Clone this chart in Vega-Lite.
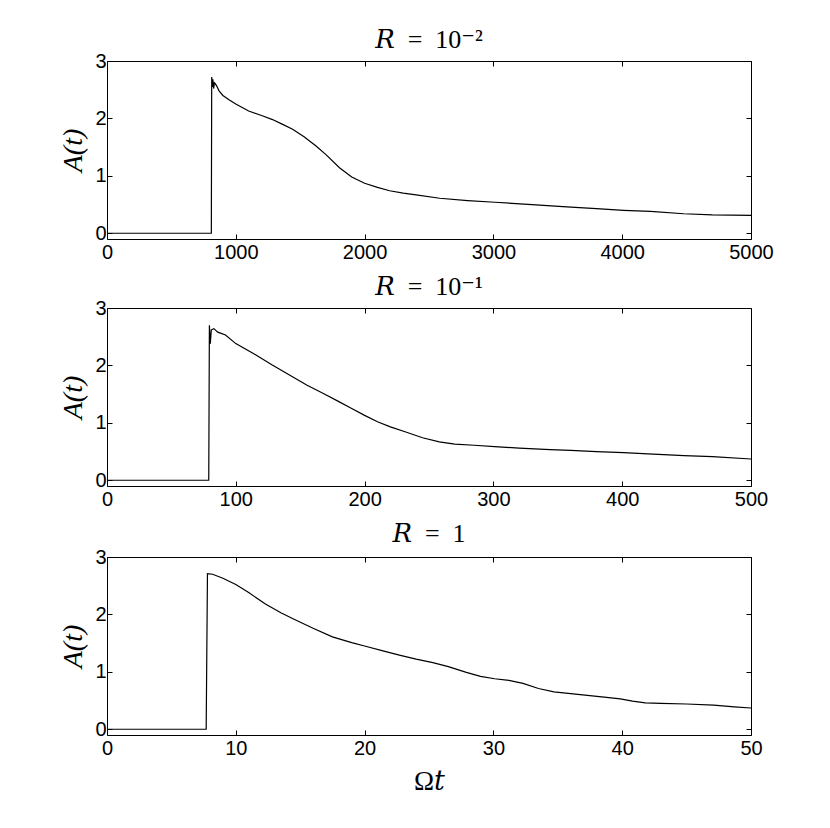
{
  "$schema": "https://vega.github.io/schema/vega-lite/v6.json",
  "padding": {"left": 59, "top": 26, "right": 5, "bottom": 5},
  "autosize": {"type": "pad"},
  "spacing": 10,
  "datasets": {
    "p1": [
      {"t": 0, "A": 0}, {"t": 810, "A": 0}, {"t": 813, "A": 2.72}, {"t": 818, "A": 2.55}, {"t": 822, "A": 2.68}, {"t": 828, "A": 2.52}, {"t": 834, "A": 2.62}, {"t": 842, "A": 2.6}, {"t": 855, "A": 2.55}, {"t": 870, "A": 2.48}, {"t": 900, "A": 2.4}, {"t": 950, "A": 2.32}, {"t": 1000, "A": 2.25}, {"t": 1100, "A": 2.13}, {"t": 1200, "A": 2.05}, {"t": 1285, "A": 1.98}, {"t": 1360, "A": 1.9}, {"t": 1441, "A": 1.81}, {"t": 1530, "A": 1.68}, {"t": 1623, "A": 1.52}, {"t": 1700, "A": 1.37}, {"t": 1805, "A": 1.14}, {"t": 1900, "A": 0.98}, {"t": 2000, "A": 0.87}, {"t": 2100, "A": 0.8}, {"t": 2194, "A": 0.74}, {"t": 2300, "A": 0.7}, {"t": 2400, "A": 0.67}, {"t": 2583, "A": 0.61}, {"t": 2800, "A": 0.57}, {"t": 3012, "A": 0.54}, {"t": 3300, "A": 0.5}, {"t": 3570, "A": 0.46}, {"t": 3800, "A": 0.43}, {"t": 4011, "A": 0.4}, {"t": 4219, "A": 0.38}, {"t": 4478, "A": 0.34}, {"t": 4700, "A": 0.32}, {"t": 5000, "A": 0.31}
    ],
    "p2": [
      {"t": 0, "A": 0}, {"t": 79, "A": 0}, {"t": 79.5, "A": 2.7}, {"t": 80.2, "A": 2.38}, {"t": 81, "A": 2.62}, {"t": 83, "A": 2.64}, {"t": 86, "A": 2.58}, {"t": 92, "A": 2.53}, {"t": 100, "A": 2.38}, {"t": 115, "A": 2.19}, {"t": 128, "A": 2.01}, {"t": 142, "A": 1.83}, {"t": 155, "A": 1.66}, {"t": 168, "A": 1.51}, {"t": 180, "A": 1.37}, {"t": 190, "A": 1.25}, {"t": 200, "A": 1.13}, {"t": 210, "A": 1.02}, {"t": 220, "A": 0.93}, {"t": 232, "A": 0.84}, {"t": 245, "A": 0.74}, {"t": 258, "A": 0.67}, {"t": 270, "A": 0.63}, {"t": 285, "A": 0.61}, {"t": 301, "A": 0.585}, {"t": 320, "A": 0.56}, {"t": 344, "A": 0.535}, {"t": 360, "A": 0.52}, {"t": 380, "A": 0.5}, {"t": 401, "A": 0.48}, {"t": 420, "A": 0.46}, {"t": 448, "A": 0.43}, {"t": 470, "A": 0.41}, {"t": 500, "A": 0.37}
    ],
    "p3": [
      {"t": 0, "A": 0}, {"t": 7.7, "A": 0}, {"t": 7.8, "A": 2.71}, {"t": 8.2, "A": 2.7}, {"t": 9, "A": 2.63}, {"t": 10, "A": 2.52}, {"t": 11, "A": 2.38}, {"t": 12.3, "A": 2.18}, {"t": 13.5, "A": 2.03}, {"t": 14.4, "A": 1.93}, {"t": 16, "A": 1.76}, {"t": 17.5, "A": 1.61}, {"t": 19, "A": 1.51}, {"t": 20, "A": 1.45}, {"t": 21.5, "A": 1.36}, {"t": 22.7, "A": 1.29}, {"t": 24, "A": 1.22}, {"t": 25.3, "A": 1.16}, {"t": 26.5, "A": 1.09}, {"t": 27.9, "A": 0.99}, {"t": 29, "A": 0.92}, {"t": 30.1, "A": 0.88}, {"t": 31.2, "A": 0.85}, {"t": 32.3, "A": 0.8}, {"t": 33.5, "A": 0.71}, {"t": 34.7, "A": 0.65}, {"t": 36, "A": 0.62}, {"t": 37.3, "A": 0.59}, {"t": 38.6, "A": 0.56}, {"t": 39.85, "A": 0.53}, {"t": 40.8, "A": 0.49}, {"t": 41.8, "A": 0.46}, {"t": 43, "A": 0.45}, {"t": 45, "A": 0.44}, {"t": 47.1, "A": 0.42}, {"t": 48.7, "A": 0.39}, {"t": 50, "A": 0.37}
    ]
  },
  "vconcat": [
    {
      "width": 644, "height": 178,
      "title": {"text": "𝑅\u2002=\u200210⁻²"},
      "data": {"name": "p1"},
      "layer": [
        {"mark": {"type": "line", "color": "black", "strokeWidth": 1.2},
         "encoding": {
           "x": {"field": "t", "type": "quantitative", "scale": {"domain": [0, 5000], "nice": false}, "axis": {"values": [0, 1000, 2000, 3000, 4000, 5000], "format": "d", "title": null}},
           "y": {"field": "A", "type": "quantitative", "scale": {"domain": [-0.1, 3], "nice": false, "zero": false}, "axis": {"values": [0, 1, 2, 3], "format": "d", "title": "A(t)"}}}},
        {"mark": {"type": "line", "strokeOpacity": 0},
         "encoding": {
           "x": {"field": "t", "type": "quantitative", "axis": {"orient": "top", "labels": false, "title": null, "values": [0, 1000, 2000, 3000, 4000, 5000]}},
           "y": {"field": "A", "type": "quantitative", "axis": {"orient": "right", "labels": false, "title": null, "values": [0, 1, 2, 3]}}}}
      ],
      "resolve": {"axis": {"x": "independent", "y": "independent"}}
    },
    {
      "width": 644, "height": 178,
      "title": {"text": "𝑅\u2002=\u200210⁻¹"},
      "data": {"name": "p2"},
      "layer": [
        {"mark": {"type": "line", "color": "black", "strokeWidth": 1.2},
         "encoding": {
           "x": {"field": "t", "type": "quantitative", "scale": {"domain": [0, 500], "nice": false}, "axis": {"values": [0, 100, 200, 300, 400, 500], "format": "d", "title": null}},
           "y": {"field": "A", "type": "quantitative", "scale": {"domain": [-0.1, 3], "nice": false, "zero": false}, "axis": {"values": [0, 1, 2, 3], "format": "d", "title": "A(t)"}}}},
        {"mark": {"type": "line", "strokeOpacity": 0},
         "encoding": {
           "x": {"field": "t", "type": "quantitative", "axis": {"orient": "top", "labels": false, "title": null, "values": [0, 100, 200, 300, 400, 500]}},
           "y": {"field": "A", "type": "quantitative", "axis": {"orient": "right", "labels": false, "title": null, "values": [0, 1, 2, 3]}}}}
      ],
      "resolve": {"axis": {"x": "independent", "y": "independent"}}
    },
    {
      "width": 644, "height": 178,
      "title": {"text": "𝑅\u2002=\u20021", "offset": 0},
      "data": {"name": "p3"},
      "layer": [
        {"mark": {"type": "line", "color": "black", "strokeWidth": 1.2},
         "encoding": {
           "x": {"field": "t", "type": "quantitative", "scale": {"domain": [0, 50], "nice": false}, "axis": {"values": [0, 10, 20, 30, 40, 50], "format": "d", "title": "Ω𝑡", "titleFontStyle": "normal", "titleFontSize": 27, "titlePadding": 10}},
           "y": {"field": "A", "type": "quantitative", "scale": {"domain": [-0.1, 3], "nice": false, "zero": false}, "axis": {"values": [0, 1, 2, 3], "format": "d", "title": "A(t)"}}}},
        {"mark": {"type": "line", "strokeOpacity": 0},
         "encoding": {
           "x": {"field": "t", "type": "quantitative", "axis": {"orient": "top", "labels": false, "title": null, "values": [0, 10, 20, 30, 40, 50]}},
           "y": {"field": "A", "type": "quantitative", "axis": {"orient": "right", "labels": false, "title": null, "values": [0, 1, 2, 3]}}}}
      ],
      "resolve": {"axis": {"x": "independent", "y": "independent"}}
    }
  ],
  "config": {
    "view": {"stroke": "black", "strokeWidth": 1},
    "axis": {"domain": false, "grid": false, "ticks": true, "tickSize": -5, "tickColor": "black", "tickWidth": 1,
             "labelFont": "Liberation Sans", "labelFontSize": 20, "labelColor": "black", "labelPadding": 6,
             "labelFlush": false, "labelOverlap": false, "labelBound": false,
             "titleFont": "Liberation Serif, DejaVu Serif", "titleFontSize": 28, "titleFontStyle": "italic", "titleFontWeight": "normal", "titleColor": "black", "titlePadding": 7},
    "axisX": {"labelPadding": 8},
    "title": {"font": "Liberation Serif, DejaVu Serif", "fontSize": 26, "fontWeight": "normal", "color": "black", "anchor": "middle", "offset": -2}
  }
}
